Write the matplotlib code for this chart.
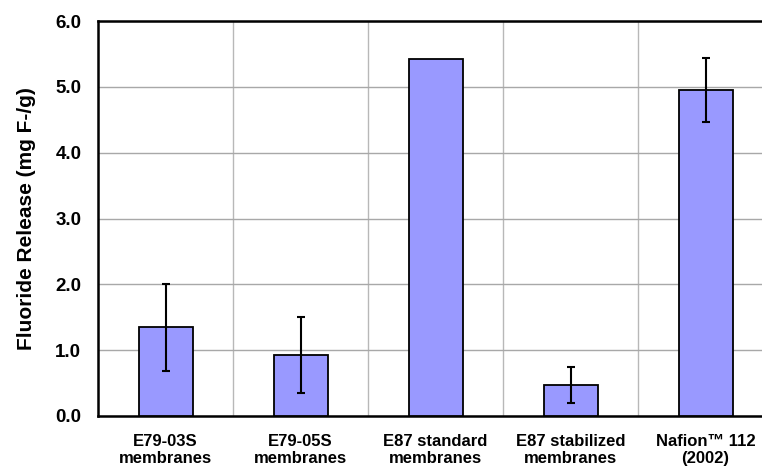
import numpy as np
import matplotlib.pyplot as plt

plt.rcParams['font.family'] = ['Liberation Sans', 'DejaVu Sans']
plt.rcParams['font.weight'] = 'bold'

categories = ['E79-03S\nmembranes', 'E79-05S\nmembranes', 'E87 standard\nmembranes',
              'E87 stabilized\nmembranes', 'Nafion\u2122 112\n(2002)']
release = [1.35, 0.93, 5.43, 0.47, 4.95]
errors = [0.66, 0.58, 0.0, 0.28, 0.49]

fig = plt.figure(figsize=(7.62, 4.70), dpi=100)
ax = fig.add_axes([98 / 762, 1 - 416 / 470, 675 / 762, 395 / 470])

x = np.arange(len(categories))
ax.bar(x, release, width=0.4, color='#9999ff', edgecolor='black', linewidth=1.3, zorder=3)
mask = np.array(errors) > 0
ax.errorbar(x[mask], np.array(release)[mask], yerr=np.array(errors)[mask], fmt='none',
            ecolor='black', elinewidth=1.5, capsize=2.6, capthick=1.5, zorder=4)

ax.set_xlim(-0.5, len(categories) - 0.5)
ax.set_ylim(0, 6)
ax.set_yticks(np.arange(0, 6.1, 1.0))
ax.set_yticklabels([f'{v:.1f}' for v in np.arange(0, 6.1, 1.0)], fontsize=13.5, fontweight='bold')
ax.set_xticks(x)
ax.set_xticklabels(categories, fontsize=12, fontweight='bold', linespacing=1.2)
ax.set_xticks(np.arange(0.5, len(categories) - 0.5), minor=True)
ax.tick_params(axis='both', which='both', length=0)
ax.tick_params(axis='y', which='major', pad=12)
ax.tick_params(axis='x', which='major', pad=13)

ax.yaxis.grid(True, color='#a8a8a8', linewidth=1.0, zorder=0)
ax.xaxis.grid(True, which='minor', color='#b8b8b8', linewidth=1.0, zorder=0)
ax.xaxis.grid(False, which='major')

for side in ['left', 'bottom', 'top']:
    ax.spines[side].set_linewidth(1.8)
    ax.spines[side].set_color('black')
ax.spines['right'].set_visible(False)

ax.set_ylabel('Fluoride Release (mg F-/g)', fontsize=15, fontweight='bold', labelpad=14)

fig.savefig('out.png', dpi=100)
